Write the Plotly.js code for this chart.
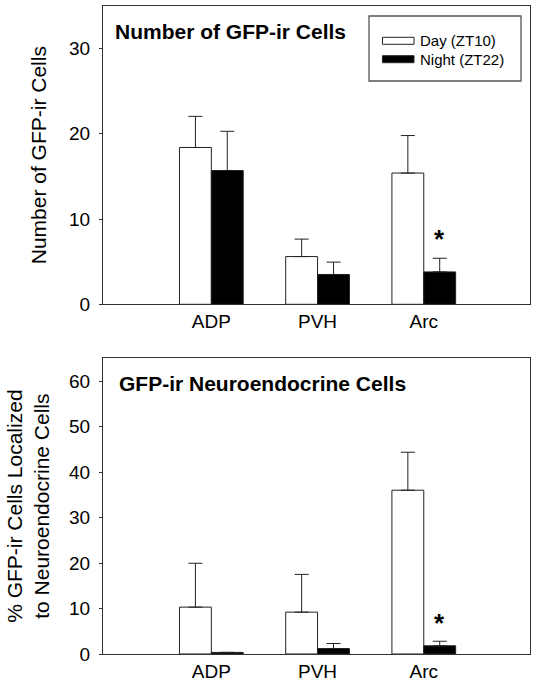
<!DOCTYPE html>
<html>
<head>
<meta charset="utf-8">
<script src="https://cdn.plot.ly/plotly-3.0.1.min.js"></script>
<style>
  html, body { margin: 0; padding: 0; background: #fff; }
  #chart { width: 537px; height: 687px; }
</style>
</head>
<body>
<div id="chart"></div>
<script>
// ---- Data ----
const categories = ['ADP', 'PVH', 'Arc'];
const seriesNames = ['Day (ZT10)', 'Night (ZT22)'];

// Panel A: Number of GFP-ir cells (mean, +SEM)
const dayCells      = [18.4, 5.6, 15.4];
const dayCellsErr   = [3.65, 2.05, 4.4];
const nightCells    = [15.7, 3.5, 3.8];
const nightCellsErr = [4.6, 1.45, 1.6];

// Panel B: % GFP-ir cells localized to neuroendocrine cells (mean, +SEM)
const dayPct      = [10.3, 9.2, 36.0];
const dayPctErr   = [9.65, 8.3, 8.35];
const nightPct    = [0.35, 1.2, 1.8];
const nightPctErr = [0, 1.1, 1.0];

// Significance markers (category with a significant Night vs Day difference)
const sigCategories = ['Arc'];

const panelTitles = ['Number of GFP-ir Cells', 'GFP-ir Neuroendocrine Cells'];
const yTitles = ['Number of GFP-ir Cells', '% GFP-ir Cells Localized<br>to Neuroendocrine Cells'];
const yRanges = [[0, 35], [0, 65]];
const yTickVals = [[0, 10, 20, 30], [0, 10, 20, 30, 40, 50, 60]];

// ---- Layout geometry ----
const W = 537, H = 687;
const M = {l: 103, r: 7, t: 6, b: 33};
const plotH = H - M.t - M.b;
const plotW = W - M.l - M.r;
const topPx = [6, 304.3];      // top panel y pixel span
const botPx = [358.3, 654.3];  // bottom panel y pixel span
const py2paper = py => (H - M.b - py) / plotH;
const px2paper = px => (px - M.l) / plotW;

const FONT = 'Liberation Sans, Arial, Helvetica, sans-serif';
const edge = '#222';
const axisCol = '#333';

function errArr(a) { return {type: 'data', array: a, arrayminus: a.map(() => 0), symmetric: false,
  color: edge, thickness: 1, width: 7}; }

const traces = [
  {type: 'bar', x: categories, y: dayCells, name: seriesNames[0], xaxis: 'x', yaxis: 'y',
   marker: {color: '#ffffff', line: {color: edge, width: 1}}, error_y: errArr(dayCellsErr), showlegend: false},
  {type: 'bar', x: categories, y: nightCells, name: seriesNames[1], xaxis: 'x', yaxis: 'y',
   marker: {color: '#000000', line: {color: edge, width: 1}}, error_y: errArr(nightCellsErr), showlegend: false},
  {type: 'bar', x: categories, y: dayPct, name: seriesNames[0], xaxis: 'x2', yaxis: 'y2',
   marker: {color: '#ffffff', line: {color: edge, width: 1}}, error_y: errArr(dayPctErr), showlegend: false},
  {type: 'bar', x: categories, y: nightPct, name: seriesNames[1], xaxis: 'x2', yaxis: 'y2',
   marker: {color: '#000000', line: {color: edge, width: 1}}, error_y: errArr(nightPctErr), showlegend: false}
];

function xAxis(anchor) {
  return {anchor: anchor, type: 'category', range: [-1.02, 3.0], showline: true, mirror: true,
    linecolor: axisCol, linewidth: 1, ticks: '', showgrid: false, zeroline: false,
    tickfont: {family: FONT, size: 19, color: '#000'}, fixedrange: true};
}
const titleStandoff = [16, 13];
function yAxis(anchor, i, domain) {
  return {anchor: anchor, domain: domain, range: yRanges[i], tickvals: yTickVals[i],
    showline: true, mirror: true, linecolor: axisCol, linewidth: 1,
    ticks: 'outside', ticklen: 3, tickcolor: axisCol, showgrid: false, zeroline: false,
    tickfont: {family: FONT, size: 19, color: '#000'}, ticklabelstandoff: 5,
    title: {text: yTitles[i], font: {family: FONT, size: 21, color: '#000'}, standoff: titleStandoff[i]},
    automargin: false, fixedrange: true};
}

const annotations = [];
const shapes = [];

// Panel titles
const titlePos = [{x: 112.5, y: 32}, {x: 116.5, y: 383}];
panelTitles.forEach((t, i) => {
  annotations.push({text: t, xref: 'paper', yref: 'paper', x: px2paper(titlePos[i].x), y: py2paper(titlePos[i].y),
    xanchor: 'left', yanchor: 'middle', showarrow: false,
    font: {family: FONT, size: 21, color: '#000', weight: 'bold'}});
});

// Significance asterisks above the Night bar of significant categories
const nightVals = [[nightCells, nightCellsErr, 'x', 'y'], [nightPct, nightPctErr, 'x2', 'y2']];
const barOffset = 0.15; // Night bar centre offset inside a group
const starShift = [2, 1];
nightVals.forEach(([v, e, xr, yr], p) => {
  sigCategories.forEach(c => {
    const k = categories.indexOf(c);
    annotations.push({text: '*', xref: xr, yref: yr, x: k + barOffset, y: v[k] + e[k],
      xanchor: 'center', yanchor: 'bottom', yshift: starShift[p], showarrow: false,
      font: {family: FONT, size: 26, color: '#000', weight: 'bold'}});
  });
});

// Legend box (top panel)
const leg = {x0: 369, x1: 521, y0: 16, y1: 81};
shapes.push({type: 'rect', xref: 'paper', yref: 'paper', x0: px2paper(leg.x0), x1: px2paper(leg.x1),
  y0: py2paper(leg.y1), y1: py2paper(leg.y0), line: {color: '#555', width: 1.3}, fillcolor: '#fff'});
const swatchY = [[37.3, 44.3], [55.7, 62.7]];
const swatchFill = ['#ffffff', '#000000'];
seriesNames.forEach((n, i) => {
  shapes.push({type: 'rect', xref: 'paper', yref: 'paper', x0: px2paper(382.5), x1: px2paper(414),
    y0: py2paper(swatchY[i][1]), y1: py2paper(swatchY[i][0]), line: {color: edge, width: 1}, fillcolor: swatchFill[i]});
  annotations.push({text: n, xref: 'paper', yref: 'paper', x: px2paper(418), y: py2paper((swatchY[i][0] + swatchY[i][1]) / 2),
    xanchor: 'left', yanchor: 'middle', showarrow: false, font: {family: FONT, size: 15, color: '#000'}});
});

const layout = {
  width: W, height: H,
  margin: M,
  paper_bgcolor: '#fff', plot_bgcolor: '#fff',
  barmode: 'group', bargap: 0.4, bargroupgap: 0,
  showlegend: false,
  xaxis: xAxis('y'),
  yaxis: yAxis('x', 0, [py2paper(topPx[1]), py2paper(topPx[0])]),
  xaxis2: xAxis('y2'),
  yaxis2: yAxis('x2', 1, [py2paper(botPx[1]), py2paper(botPx[0])]),
  annotations: annotations,
  shapes: shapes,
  font: {family: FONT, color: '#000'}
};

Plotly.newPlot('chart', traces, layout, {displayModeBar: false, staticPlot: true});
</script>
</body>
</html>
